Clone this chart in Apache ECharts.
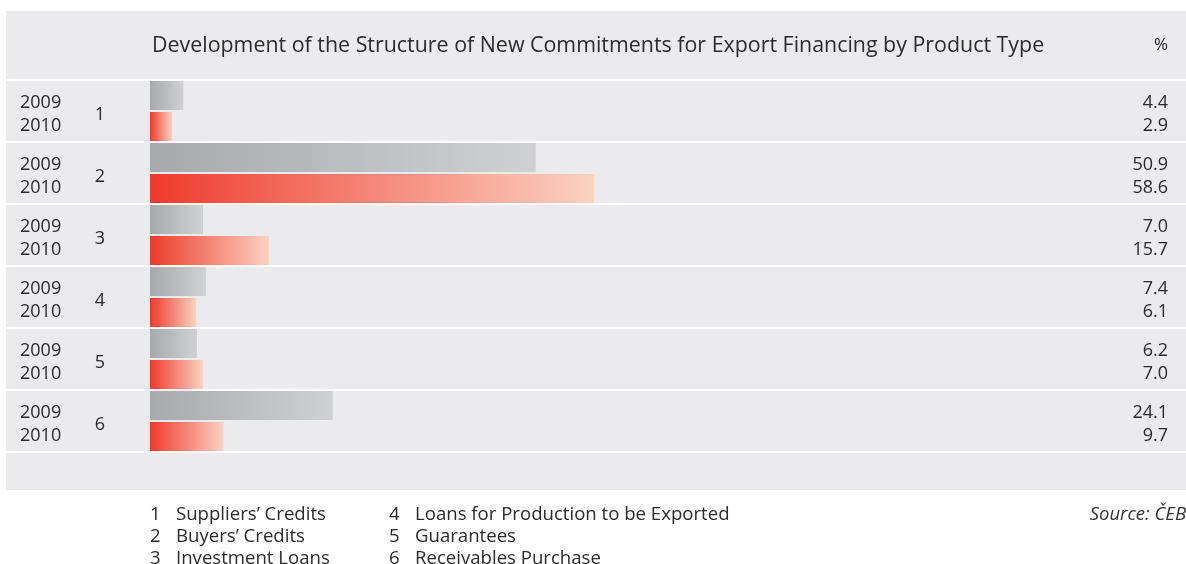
<!DOCTYPE html>
<html>
<head>
<meta charset="utf-8">
<script src="https://cdn.jsdelivr.net/npm/echarts@6/dist/echarts.min.js"></script>
<style>
  html, body { margin: 0; padding: 0; background: #ffffff; }
  #chart { width: 1186px; height: 564px; }
</style>
</head>
<body>
<div id="chart"></div>
<script>
// Product types (numbered rows) and the share of new commitments, in %
const categories = ['1', '2', '3', '4', '5', '6'];
const years = ['2009', '2010'];
const values2009 = [4.4, 50.9, 7.0, 7.4, 6.2, 24.1];
const values2010 = [2.9, 58.6, 15.7, 6.1, 7.0, 9.7];
const productNames = [
  'Suppliers\u2019 Credits',
  'Buyers\u2019 Credits',
  'Investment Loans',
  'Loans for Production to be Exported',
  'Guarantees',
  'Receivables Purchase'
];

const FONT = '"Open Sans", "Noto Sans", sans-serif';
const TEXT = '#2b2b2b';

const chart = echarts.init(document.getElementById('chart'), null, { renderer: 'canvas' });

function grad(c0, c1) {
  return new echarts.graphic.LinearGradient(0, 0, 1, 0, [
    { offset: 0, color: c0 },
    { offset: 1, color: c1 }
  ]);
}

function legendBlock(from, to) {
  return productNames.slice(from, to)
    .map((n, i) => '{n|' + (from + i + 1) + '}{t|' + n + '}')
    .join('\n');
}

const legendRich = {
  n: { fontFamily: FONT, fontSize: 18.6, fontWeight: 'normal', color: TEXT, width: 26, lineHeight: 22 },
  t: { fontFamily: FONT, fontSize: 18.6, fontWeight: 'normal', color: TEXT, lineHeight: 22 }
};

// row labels: a thin spacer line on top nudges the text block slightly below the row centre
const rowRich = {
  s6: { fontSize: 2, lineHeight: 6 },
  s8: { fontSize: 2, lineHeight: 8 },
  v: { fontFamily: FONT, fontSize: 18, color: TEXT, lineHeight: 23 }
};

const option = {
  animation: false,
  backgroundColor: '#ffffff',
  graphic: [
    {
      type: 'rect', z: -10, silent: true,
      shape: { x: 6, y: 11, width: 1180, height: 479 },
      style: { fill: '#ebebed' }
    }
  ],
  title: [
    {
      text: 'Development of the Structure of New Commitments for Export Financing by Product Type',
      left: 152, top: 35, padding: 0,
      textStyle: { fontFamily: FONT, fontSize: 21.4, fontWeight: 'normal', color: TEXT }
    },
    {
      text: '%',
      right: 18, top: 37, padding: 0,
      textStyle: { fontFamily: FONT, fontSize: 17, fontWeight: 'normal', color: TEXT }
    },
    {
      text: legendBlock(0, 3),
      left: 150, top: 504, padding: 0,
      textStyle: { rich: legendRich }
    },
    {
      text: legendBlock(3, 6),
      left: 389, top: 504, padding: 0,
      textStyle: { rich: legendRich }
    },
    {
      text: 'Source: \u010cEB',
      right: 0, top: 505, padding: 0,
      textStyle: { fontFamily: FONT, fontSize: 18.5, fontStyle: 'italic', fontWeight: 'normal', color: '#333333' }
    }
  ],
  grid: { left: 6, right: 0, top: 80, height: 372 },
  xAxis: {
    type: 'value',
    min: -19.0,
    max: 136.7,
    show: false
  },
  yAxis: [
    {
      // category axis: product numbers, white separators between rows
      type: 'category',
      data: categories,
      inverse: true,
      position: 'left',
      axisLine: { show: false },
      axisTick: { show: false },
      splitLine: { show: true, lineStyle: { color: '#ffffff', width: 2 } },
      axisLabel: {
        align: 'center', margin: -94,
        fontFamily: FONT, fontSize: 18, color: TEXT,
        formatter: (v) => '{s8| }\n{v|' + v + '}',
        rich: rowRich
      }
    },
    {
      // year pair shown at the left of every row
      type: 'category',
      data: categories,
      inverse: true,
      position: 'left',
      axisLine: { show: false },
      axisTick: { show: false },
      splitLine: { show: false },
      axisLabel: {
        align: 'left', margin: -14,
        fontFamily: FONT, fontSize: 18, color: TEXT,
        formatter: () => '{s6| }\n' + years.map(y => '{v|' + y + '}').join('\n'),
        rich: rowRich
      }
    },
    {
      // value pair shown at the right of every row
      type: 'category',
      data: categories,
      inverse: true,
      position: 'right',
      axisLine: { show: false },
      axisTick: { show: false },
      splitLine: { show: false },
      axisLabel: {
        align: 'right', margin: -18,
        fontFamily: FONT, fontSize: 18, color: TEXT,
        formatter: (v, i) => '{s6| }\n{v|' + values2009[i].toFixed(1) + '}\n{v|' + values2010[i].toFixed(1) + '}',
        rich: rowRich
      }
    }
  ],
  series: [
    {
      name: years[0],
      type: 'bar',
      yAxisIndex: 0,
      data: values2009,
      barWidth: 29,
      barGap: '7%',
      itemStyle: { color: grad('#a8a9ad', '#d0d1d3') }
    },
    {
      name: years[1],
      type: 'bar',
      yAxisIndex: 0,
      data: values2010,
      barWidth: 29,
      barGap: '7%',
      itemStyle: { color: grad('#ee3b2c', '#fbd2c1') }
    }
  ]
};

chart.setOption(option);
</script>
</body>
</html>
